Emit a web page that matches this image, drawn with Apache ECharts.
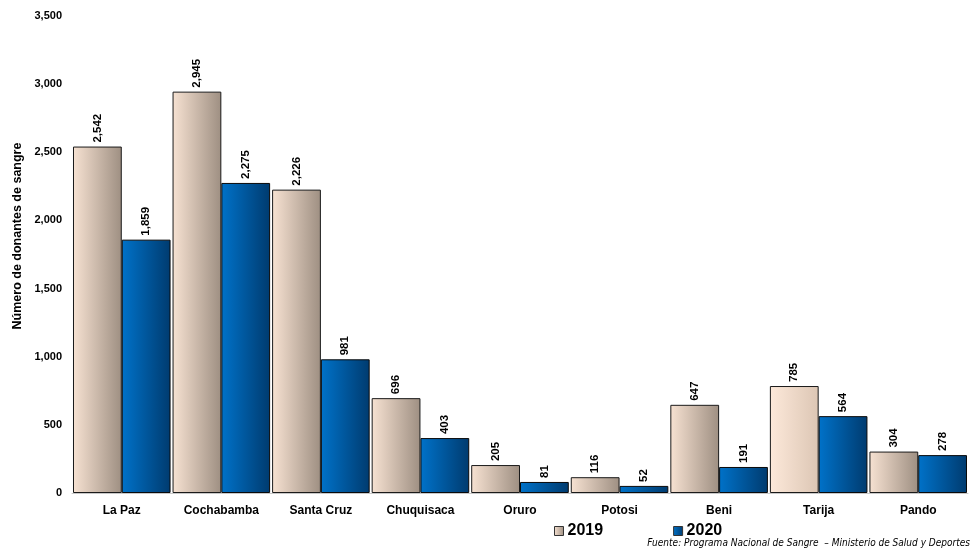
<!DOCTYPE html>
<html>
<head>
<meta charset="utf-8">
<script src="https://cdn.jsdelivr.net/npm/echarts@6/dist/echarts.min.js"></script>
<style>html,body{margin:0;padding:0;background:#fff}#c{width:976px;height:552px}</style>
</head>
<body>
<div id="c"></div>
<script>
var categories = ['La Paz','Cochabamba','Santa Cruz','Chuquisaca','Oruro','Potosi','Beni','Tarija','Pando'];
var values2019 = [2542, 2945, 2226, 696, 205, 116, 647, 785, 304];
var values2020 = [1859, 2275, 981, 403, 81, 52, 191, 564, 278];
var yTicks = [0, 500, 1000, 1500, 2000, 2500, 3000, 3500];

var chart = echarts.init(document.getElementById('c'));
function grad(a, b) {
  return new echarts.graphic.LinearGradient(0, 0, 1, 0, [{offset: 0, color: a}, {offset: 1, color: b}]);
}
var c2019 = grad('#f7e2d2', '#9e8f82');
var c2019light = grad('#fde9da', '#dcc6b4');
var c2020 = grad('#0072c9', '#003b6f');
var font = 'Liberation Sans, Arial, sans-serif';
var lbl = {show: true, position: 'top', rotate: 90, align: 'left', verticalAlign: 'middle', distance: 4,
  fontFamily: font, fontWeight: 'bold', fontSize: 11.5, color: '#000',
  formatter: function (p) { return p.value.toLocaleString('en-US'); }};

chart.setOption({
  animation: false,
  grid: {left: 72, right: 8, top: 16, bottom: 59, containLabel: false, outerBoundsMode: 'none'},
  legend: {
    data: [
      {name: '2019', itemStyle: {color: grad('#f7e2d2', '#9e8f82'), borderColor: '#333', borderWidth: 1}},
      {name: '2020', itemStyle: {color: grad('#0072c9', '#003b6f'), borderColor: '#333', borderWidth: 1}}
    ],
    left: 549, top: 518, itemWidth: 9, itemHeight: 9, itemGap: 70,
    textStyle: {fontFamily: font, fontWeight: 'bold', fontSize: 16, color: '#000', padding: [0, 0, 0, -1]},
    icon: 'rect'
  },
  xAxis: {
    type: 'category', data: categories,
    axisLine: {lineStyle: {color: '#c8c8c8'}}, axisTick: {show: false},
    axisLabel: {interval: 0, fontFamily: font, fontWeight: 'bold', fontSize: 12, color: '#000', margin: 12}
  },
  yAxis: {
    type: 'value', min: 0, max: 3500, interval: 500,
    splitLine: {show: false}, axisLine: {show: false}, axisTick: {show: false},
    axisLabel: {fontFamily: font, fontWeight: 'bold', fontSize: 11, color: '#000', margin: 10,
      formatter: function (v) { return v.toLocaleString('en-US'); }}
  },
  series: [
    {name: '2019', type: 'bar', barGap: '0%', barCategoryGap: '2%',
     data: values2019.map(function (v, i) { return {value: v, itemStyle: {color: categories[i] === 'Tarija' ? c2019light : c2019}}; }),
     itemStyle: {color: c2019, borderColor: '#1a1a1a', borderWidth: 1}, label: lbl},
    {name: '2020', type: 'bar', data: values2020,
     itemStyle: {color: c2020, borderColor: '#0a0a0a', borderWidth: 1}, label: lbl}
  ],
  graphic: [{
    type: 'text', x: 18, y: 236, rotation: Math.PI / 2,
    style: {text: 'Número de donantes de sangre', align: 'center', verticalAlign: 'middle',
      font: 'bold 12.5px "Liberation Sans", Arial, sans-serif', fill: '#000'}
  }, {
    type: 'text', x: 970, y: 543, scaleX: 0.91,
    style: {text: 'Fuente: Programa Nacional de Sangre  – Ministerio de Salud y Deportes', align: 'right', verticalAlign: 'middle',
      font: 'italic 11px "Liberation Sans Narrow", "DejaVu Sans Condensed", Arial, sans-serif', fill: '#000'}
  }]
});
</script>
</body>
</html>
